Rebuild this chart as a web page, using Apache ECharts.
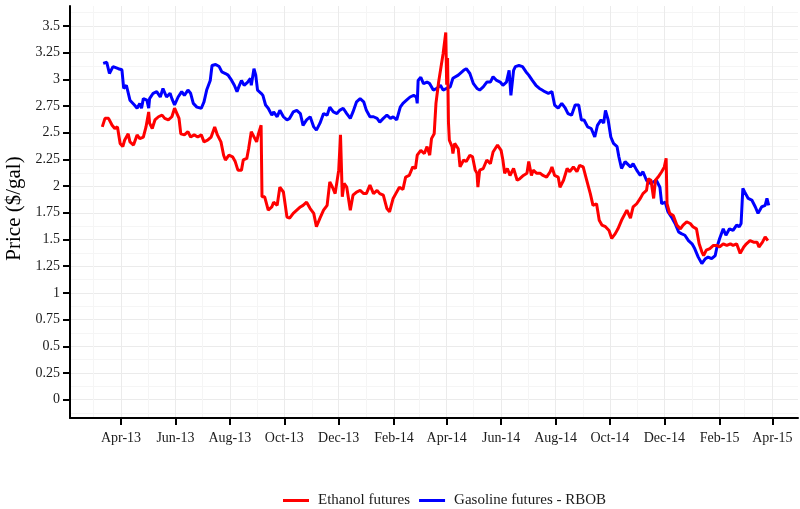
<!DOCTYPE html>
<html><head><meta charset="utf-8">
<script src="https://cdn.jsdelivr.net/npm/echarts@6/dist/echarts.min.js"></script>
<style>html,body{margin:0;padding:0;background:#fff}#c{width:800px;height:509px}</style>
</head><body><div id="c"></div><script>
// ---- Data ----
const seriesNames = ['Ethanol futures', 'Gasoline futures - RBOB'];

const ethanolDates = ['2013-03-11','2013-03-14','2013-03-18','2013-03-22','2013-03-25','2013-03-28','2013-03-31','2013-04-03','2013-04-05','2013-04-09','2013-04-11','2013-04-15','2013-04-19','2013-04-22','2013-04-26','2013-04-29','2013-05-02','2013-05-03','2013-05-06','2013-05-09','2013-05-13','2013-05-17','2013-05-20','2013-05-24','2013-05-28','2013-05-31','2013-06-02','2013-06-05','2013-06-07','2013-06-11','2013-06-15','2013-06-18','2013-06-22','2013-06-26','2013-06-30','2013-07-03','2013-07-07','2013-07-11','2013-07-15','2013-07-18','2013-07-22','2013-07-25','2013-07-27','2013-07-31','2013-08-04','2013-08-07','2013-08-10','2013-08-14','2013-08-16','2013-08-20','2013-08-22','2013-08-25','2013-08-27','2013-08-31','2013-09-02','2013-09-05','2013-09-06','2013-09-09','2013-09-13','2013-09-17','2013-09-19','2013-09-23','2013-09-26','2013-09-30','2013-10-04','2013-10-07','2013-10-11','2013-10-15','2013-10-19','2013-10-22','2013-10-26','2013-10-30','2013-11-03','2013-11-06','2013-11-10','2013-11-14','2013-11-18','2013-11-21','2013-11-24','2013-11-27','2013-12-01','2013-12-03','2013-12-05','2013-12-07','2013-12-10','2013-12-14','2013-12-17','2013-12-21','2013-12-25','2013-12-29','2014-01-01','2014-01-05','2014-01-09','2014-01-13','2014-01-16','2014-01-20','2014-01-24','2014-01-27','2014-01-31','2014-02-03','2014-02-07','2014-02-11','2014-02-14','2014-02-18','2014-02-22','2014-02-25','2014-02-27','2014-03-03','2014-03-07','2014-03-10','2014-03-13','2014-03-15','2014-03-18','2014-03-20','2014-03-23','2014-03-25','2014-03-28','2014-03-31','2014-04-01','2014-04-02','2014-04-03','2014-04-04','2014-04-07','2014-04-08','2014-04-10','2014-04-14','2014-04-16','2014-04-20','2014-04-23','2014-04-27','2014-04-30','2014-05-03','2014-05-05','2014-05-06','2014-05-08','2014-05-12','2014-05-16','2014-05-20','2014-05-23','2014-05-28','2014-06-01','2014-06-03','2014-06-05','2014-06-08','2014-06-11','2014-06-15','2014-06-19','2014-06-22','2014-06-26','2014-06-30','2014-07-02','2014-07-05','2014-07-07','2014-07-11','2014-07-15','2014-07-18','2014-07-22','2014-07-26','2014-07-28','2014-07-31','2014-08-04','2014-08-06','2014-08-10','2014-08-14','2014-08-17','2014-08-21','2014-08-25','2014-08-28','2014-09-01','2014-09-05','2014-09-09','2014-09-12','2014-09-16','2014-09-19','2014-09-22','2014-09-26','2014-09-30','2014-10-03','2014-10-07','2014-10-10','2014-10-14','2014-10-20','2014-10-24','2014-10-27','2014-10-31','2014-11-04','2014-11-07','2014-11-11','2014-11-13','2014-11-16','2014-11-19','2014-11-21','2014-11-24','2014-11-28','2014-12-01','2014-12-03','2014-12-04','2014-12-07','2014-12-11','2014-12-15','2014-12-19','2014-12-22','2014-12-26','2014-12-30','2015-01-02','2015-01-06','2015-01-09','2015-01-12','2015-01-14','2015-01-17','2015-01-21','2015-01-25','2015-01-29','2015-02-01','2015-02-05','2015-02-09','2015-02-13','2015-02-16','2015-02-20','2015-02-24','2015-02-28','2015-03-03','2015-03-07','2015-03-11','2015-03-15','2015-03-17','2015-03-21','2015-03-24','2015-03-26','2015-03-27'];
const ethanolValues = [2.555,2.635,2.635,2.57,2.54,2.555,2.40,2.37,2.43,2.49,2.415,2.385,2.48,2.445,2.46,2.555,2.695,2.59,2.54,2.62,2.65,2.665,2.635,2.62,2.65,2.73,2.73,2.635,2.49,2.48,2.51,2.46,2.48,2.46,2.48,2.415,2.43,2.46,2.555,2.48,2.415,2.29,2.245,2.29,2.275,2.23,2.15,2.15,2.245,2.26,2.35,2.51,2.525,2.415,2.49,2.57,1.90,1.90,1.775,1.805,1.85,1.82,1.99,1.945,1.71,1.70,1.745,1.775,1.805,1.82,1.85,1.79,1.745,1.62,1.70,1.775,1.82,2.04,1.99,1.93,2.15,2.48,1.90,2.025,1.99,1.775,1.915,1.945,1.96,1.93,1.93,2.01,1.93,1.96,1.93,1.915,1.79,1.76,1.885,1.93,1.99,1.97,2.085,2.10,2.18,2.165,2.29,2.335,2.305,2.37,2.29,2.445,2.49,2.775,2.975,2.975,3.24,3.44,2.95,3.20,2.60,2.43,2.37,2.305,2.40,2.35,2.18,2.245,2.23,2.29,2.275,2.15,2.12,1.99,2.15,2.165,2.245,2.21,2.32,2.385,2.335,2.245,2.12,2.165,2.10,2.165,2.055,2.07,2.10,2.12,2.23,2.10,2.15,2.12,2.12,2.10,2.085,2.135,2.18,2.10,2.085,1.99,2.055,2.165,2.135,2.18,2.135,2.195,2.18,2.055,1.93,1.82,1.835,1.68,1.635,1.62,1.585,1.51,1.555,1.60,1.68,1.775,1.70,1.805,1.835,1.885,1.93,1.96,2.07,2.055,1.885,2.055,2.085,2.135,2.18,2.26,1.835,1.745,1.725,1.635,1.60,1.635,1.665,1.65,1.62,1.60,1.46,1.385,1.35,1.40,1.415,1.445,1.445,1.43,1.46,1.445,1.46,1.445,1.46,1.37,1.43,1.46,1.49,1.475,1.475,1.43,1.475,1.525,1.51,1.49];

const gasolineDates = ['2013-03-12','2013-03-16','2013-03-19','2013-03-23','2013-03-29','2013-04-02','2013-04-04','2013-04-07','2013-04-11','2013-04-16','2013-04-19','2013-04-22','2013-04-24','2013-04-26','2013-04-30','2013-05-02','2013-05-03','2013-05-07','2013-05-11','2013-05-15','2013-05-18','2013-05-22','2013-05-26','2013-05-28','2013-05-31','2013-06-04','2013-06-08','2013-06-11','2013-06-15','2013-06-18','2013-06-21','2013-06-25','2013-06-30','2013-07-03','2013-07-06','2013-07-10','2013-07-12','2013-07-16','2013-07-20','2013-07-23','2013-07-27','2013-07-30','2013-08-03','2013-08-06','2013-08-09','2013-08-11','2013-08-14','2013-08-17','2013-08-21','2013-08-24','2013-08-25','2013-08-28','2013-08-30','2013-09-01','2013-09-05','2013-09-07','2013-09-10','2013-09-13','2013-09-17','2013-09-19','2013-09-23','2013-09-26','2013-09-30','2013-10-04','2013-10-07','2013-10-11','2013-10-15','2013-10-19','2013-10-22','2013-10-26','2013-10-30','2013-11-03','2013-11-06','2013-11-10','2013-11-14','2013-11-18','2013-11-21','2013-11-25','2013-11-29','2013-12-02','2013-12-06','2013-12-10','2013-12-14','2013-12-17','2013-12-21','2013-12-25','2013-12-29','2014-01-01','2014-01-05','2014-01-09','2014-01-13','2014-01-16','2014-01-20','2014-01-24','2014-01-28','2014-01-31','2014-02-04','2014-02-08','2014-02-11','2014-02-15','2014-02-19','2014-02-23','2014-02-26','2014-02-27','2014-02-28','2014-03-03','2014-03-06','2014-03-10','2014-03-13','2014-03-17','2014-03-21','2014-03-25','2014-03-28','2014-04-01','2014-04-05','2014-04-08','2014-04-14','2014-04-20','2014-04-23','2014-04-27','2014-05-01','2014-05-05','2014-05-08','2014-05-12','2014-05-16','2014-05-20','2014-05-23','2014-05-27','2014-05-31','2014-06-03','2014-06-07','2014-06-10','2014-06-12','2014-06-15','2014-06-17','2014-06-21','2014-06-25','2014-06-29','2014-07-02','2014-07-06','2014-07-10','2014-07-14','2014-07-17','2014-07-20','2014-07-24','2014-07-28','2014-07-31','2014-08-04','2014-08-08','2014-08-12','2014-08-15','2014-08-19','2014-08-23','2014-08-27','2014-08-30','2014-09-02','2014-09-06','2014-09-10','2014-09-14','2014-09-17','2014-09-21','2014-09-24','2014-09-26','2014-09-29','2014-10-02','2014-10-05','2014-10-09','2014-10-11','2014-10-14','2014-10-18','2014-10-20','2014-10-24','2014-10-27','2014-10-31','2014-11-04','2014-11-07','2014-11-11','2014-11-15','2014-11-19','2014-11-22','2014-11-26','2014-11-28','2014-12-02','2014-12-05','2014-12-09','2014-12-13','2014-12-17','2014-12-20','2014-12-24','2014-12-28','2015-01-01','2015-01-04','2015-01-08','2015-01-12','2015-01-16','2015-01-19','2015-01-23','2015-01-27','2015-01-29','2015-02-01','2015-02-05','2015-02-08','2015-02-12','2015-02-16','2015-02-20','2015-02-23','2015-02-25','2015-02-27','2015-03-01','2015-03-05','2015-03-09','2015-03-13','2015-03-16','2015-03-20','2015-03-24','2015-03-26','2015-03-28'];
const gasolineValues = [3.15,3.16,3.055,3.12,3.10,3.09,2.915,2.945,2.805,2.76,2.73,2.775,2.73,2.82,2.805,2.73,2.82,2.87,2.885,2.835,2.915,2.835,2.87,2.82,2.76,2.835,2.885,2.85,2.90,2.87,2.775,2.74,2.73,2.79,2.90,2.99,3.13,3.14,3.12,3.07,3.055,3.04,2.99,2.945,2.885,2.93,2.99,2.945,2.975,3.01,2.945,3.10,3.04,2.90,2.87,2.85,2.76,2.73,2.665,2.695,2.65,2.71,2.65,2.62,2.635,2.695,2.71,2.68,2.57,2.62,2.65,2.555,2.525,2.59,2.68,2.665,2.74,2.695,2.68,2.71,2.73,2.68,2.635,2.695,2.79,2.82,2.79,2.71,2.65,2.65,2.635,2.60,2.635,2.665,2.635,2.65,2.62,2.74,2.775,2.805,2.835,2.85,2.835,2.775,2.99,3.02,2.96,2.975,2.96,2.90,2.915,2.945,2.90,2.915,2.93,3.01,3.04,3.085,3.10,3.055,2.96,2.915,2.90,2.93,2.975,2.975,3.025,2.99,2.975,2.945,2.975,3.085,2.85,3.085,3.12,3.13,3.12,3.07,3.04,2.99,2.945,2.915,2.90,2.885,2.87,2.885,2.76,2.73,2.775,2.73,2.68,2.665,2.76,2.76,2.62,2.62,2.555,2.54,2.46,2.57,2.62,2.59,2.71,2.62,2.46,2.40,2.37,2.275,2.165,2.23,2.23,2.18,2.21,2.15,2.10,2.135,2.055,2.025,2.04,2.055,1.99,1.835,1.85,1.76,1.71,1.65,1.57,1.555,1.54,1.49,1.46,1.415,1.335,1.275,1.32,1.335,1.32,1.35,1.43,1.51,1.60,1.54,1.60,1.585,1.635,1.62,1.65,1.98,1.945,1.885,1.87,1.805,1.745,1.805,1.82,1.885,1.82];

// Tick labels
const xTickDates = ['2013-04-01','2013-06-01','2013-08-01','2013-10-01','2013-12-01','2014-02-01','2014-04-01','2014-06-01','2014-08-01','2014-10-01','2014-12-01','2015-02-01','2015-04-01'];
const xTickLabels = ['Apr-13','Jun-13','Aug-13','Oct-13','Dec-13','Feb-14','Apr-14','Jun-14','Aug-14','Oct-14','Dec-14','Feb-15','Apr-15'];
const xMinorDates = ['2013-03-01','2013-05-01','2013-07-01','2013-09-01','2013-11-01','2014-01-01','2014-03-01','2014-05-01','2014-07-01','2014-09-01','2014-11-01','2015-01-01','2015-03-01'];
const yTicks = [0,0.25,0.5,0.75,1,1.25,1.5,1.75,2,2.25,2.5,2.75,3,3.25,3.5];
const yTickLabels = ['0','0.25','0.5','0.75','1','1.25','1.5','1.75','2','2.25','2.5','2.75','3','3.25','3.5'];
const yMinor = [-0.125,0.125,0.375,0.625,0.875,1.125,1.375,1.625,1.875,2.125,2.375,2.625,2.875,3.125,3.375,3.625];

// ---- Helpers ----
function ts(s){ const p=s.split('-').map(Number); return Date.UTC(p[0],p[1]-1,p[2]); }
const DAY = 86400000;
const xMin = ts('2013-04-01') - 57.2*DAY;
const xMax = xMin + 816*DAY;
const xTickTs = xTickDates.map(ts);
const xMinorTs = xMinorDates.map(ts);
const FONT = '"Liberation Serif", "Times New Roman", serif';

const chart = echarts.init(document.getElementById('c'), null, {renderer:'canvas'});
chart.setOption({
  animation:false,
  backgroundColor:'#ffffff',
  grid:{left:70, right:2, top:6, bottom:91, containLabel:false, outerBoundsMode:'none'},
  legend:{
    data:seriesNames, top:492, left:283, padding:0, itemWidth:26, itemHeight:3, itemGap:9, icon:'rect',
    textStyle:{fontFamily:FONT, fontSize:15, lineHeight:17, color:'#1a1a1a', padding:[0,0,0,4]}
  },
  xAxis:[{
    type:'value', min:xMin, max:xMax,
    axisLine:{show:true, onZero:false, lineStyle:{color:'#000', width:2}},
    axisTick:{show:true, length:7, lineStyle:{color:'#000', width:2}, customValues:xTickTs},
    axisLabel:{show:true, margin:13, fontFamily:FONT, fontSize:14, color:'#1a1a1a', customValues:xTickTs, hideOverlap:false,
      formatter:function(v){ let best=0,bd=Infinity; xTickTs.forEach((t,i)=>{const d=Math.abs(t-v); if(d<bd){bd=d;best=i;}}); return xTickLabels[best]; }},
    splitLine:{show:true, lineStyle:{color:'#ebebeb', width:1}}
  },{
    type:'value', min:xMin, max:xMax, gridIndex:0,
    axisLine:{show:false}, axisLabel:{show:false, customValues:xMinorTs},
    axisTick:{show:false, customValues:xMinorTs},
    splitLine:{show:true, lineStyle:{color:'#f5f5f5', width:1}}
  }],
  yAxis:[{
    type:'value', min:-0.172, max:3.6875,
    name:'Price ($/gal)', nameLocation:'middle', nameGap:41, nameRotate:90,
    nameTextStyle:{fontFamily:FONT, fontSize:21, color:'#000', padding:[0,0,0,7]},
    axisLine:{show:true, onZero:false, lineStyle:{color:'#000', width:2}},
    axisTick:{show:true, length:7, lineStyle:{color:'#000', width:2}, customValues:yTicks},
    axisLabel:{show:true, margin:10, fontFamily:FONT, fontSize:14, color:'#1a1a1a', customValues:yTicks,
      formatter:function(v){ const i=yTicks.findIndex(t=>Math.abs(t-v)<1e-6); return i>=0?yTickLabels[i]:''; }},
    splitLine:{show:true, lineStyle:{color:'#ebebeb', width:1}}
  },{
    type:'value', min:-0.172, max:3.6875, gridIndex:0,
    axisLine:{show:false}, axisLabel:{show:false, customValues:yMinor},
    axisTick:{show:false, customValues:yMinor},
    splitLine:{show:true, lineStyle:{color:'#f5f5f5', width:1}}
  }],
  series:[{
    name:seriesNames[0], type:'line', xAxisIndex:0, yAxisIndex:0, z:3,
    data:ethanolDates.map((d,i)=>[ts(d), ethanolValues[i]]),
    showSymbol:false, symbol:'none', color:'#ff0000',
    lineStyle:{color:'#ff0000', width:3}
  },{
    name:seriesNames[1], type:'line', xAxisIndex:0, yAxisIndex:0, z:2,
    data:gasolineDates.map((d,i)=>[ts(d), gasolineValues[i]]),
    showSymbol:false, symbol:'none', color:'#0000ff',
    lineStyle:{color:'#0000ff', width:3}
  }]
});
</script></body></html>
